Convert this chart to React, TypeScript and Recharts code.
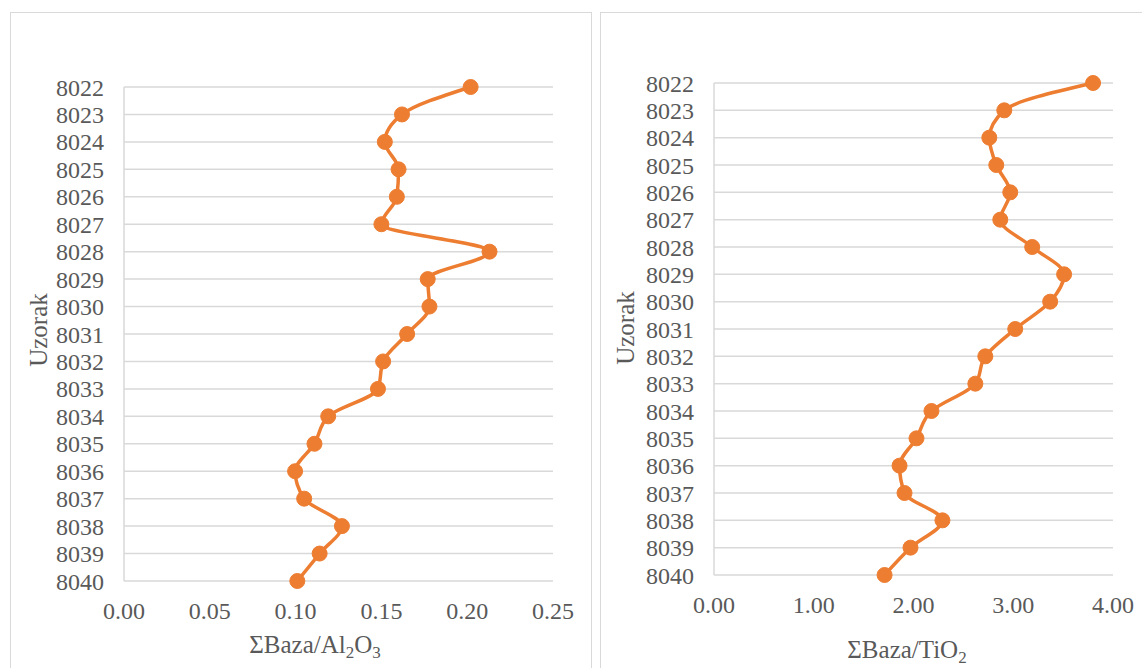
import React from 'react';
import { LineChart, Line, XAxis, YAxis, CartesianGrid } from 'recharts';

// sample ids, top to bottom
const samples = [
  '8022', '8023', '8024', '8025', '8026', '8027', '8028', '8029', '8030', '8031',
  '8032', '8033', '8034', '8035', '8036', '8037', '8038', '8039', '8040',
];

// ΣBaza/Al2O3
const alumina = [
  0.202, 0.162, 0.152, 0.160, 0.159, 0.150, 0.213, 0.177, 0.178, 0.165,
  0.151, 0.148, 0.119, 0.111, 0.0997, 0.105, 0.127, 0.114, 0.101,
];

// ΣBaza/TiO2
const titania = [
  3.80, 2.91, 2.76, 2.83, 2.97, 2.87, 3.19, 3.51, 3.37, 3.02,
  2.72, 2.62, 2.18, 2.03, 1.86, 1.91, 2.29, 1.97, 1.71,
];

const aluminaTicks = [0, 0.05, 0.1, 0.15, 0.2, 0.25];
const titaniaTicks = [0, 1, 2, 3, 4];

const data = samples.map((s, i) => ({ sample: s, al: alumina[i], ti: titania[i] }));

const FONT = '"Liberation Serif", "Times New Roman", serif';
const TEXT = '#595959';
const GRID = '#d9d9d9';
const ORANGE = '#ED7D31';

const XTick = (props: any) => {
  const { x, y, payload } = props;
  return (
    <text x={x} y={y} dy="0.71em" textAnchor="middle" fill={TEXT} style={{ fontFamily: FONT, fontSize: 24 }}>
      {Number(payload.value).toFixed(2)}
    </text>
  );
};

const YTick = (props: any) => {
  const { x, y, payload } = props;
  return (
    <text x={x} y={y} dy="0.355em" textAnchor="end" fill={TEXT} style={{ fontFamily: FONT, fontSize: 24 }}>
      {payload.value}
    </text>
  );
};

const sub = (t: string) => (
  <span style={{ fontSize: '0.68em', position: 'relative', top: '0.32em' }}>{t}</span>
);

const titleStyle: React.CSSProperties = {
  position: 'absolute',
  fontSize: 25,
  lineHeight: '25px',
  color: TEXT,
  whiteSpace: 'nowrap',
  transform: 'translateX(-50%)',
};

const yTitleStyle: React.CSSProperties = {
  position: 'absolute',
  fontSize: 25,
  lineHeight: '25px',
  color: TEXT,
  whiteSpace: 'nowrap',
  transform: 'translate(-50%, -50%) rotate(-90deg)',
};

function Panel({
  dataKey,
  domain,
  ticks,
  yWidth,
  width,
  margin,
}: {
  dataKey: string;
  domain: [number, number];
  ticks: number[];
  yWidth: number;
  width: number;
  margin: { top: number; right: number; bottom: number; left: number };
}) {
  return (
    <LineChart width={width} height={668} data={data} layout="vertical" margin={margin}>
      <CartesianGrid vertical={false} stroke={GRID} strokeWidth={1.5} />
      <XAxis
        type="number"
        domain={domain}
        ticks={ticks}
        axisLine={false}
        tickLine={false}
        tickSize={6}
        tickMargin={15}
        height={60}
        tick={<XTick />}
        interval={0}
      />
      <YAxis
        type="category"
        dataKey="sample"
        width={yWidth}
        axisLine={{ stroke: GRID, strokeWidth: 1.5 }}
        tickLine={false}
        tickSize={6}
        tickMargin={14}
        tick={<YTick />}
        interval={0}
      />
      <Line
        type="monotone"
        dataKey={dataKey}
        stroke={ORANGE}
        strokeWidth={3.5}
        dot={{ r: 7.5, fill: ORANGE, stroke: ORANGE, strokeWidth: 1 }}
        isAnimationActive={false}
      />
    </LineChart>
  );
}

export default function App() {
  return (
    <div
      style={{
        position: 'absolute',
        left: 0,
        top: 0,
        width: 1142,
        height: 668,
        overflow: 'hidden',
        background: '#fff',
        fontFamily: FONT,
      }}
    >
      <div style={{ position: 'absolute', left: 10, top: 12, width: 580, height: 700, border: `1px solid ${GRID}` }} />
      <div style={{ position: 'absolute', left: 600, top: 12, width: 600, height: 700, border: `1px solid ${GRID}` }} />

      <div style={{ position: 'absolute', left: 0, top: 0 }}>
        <Panel
          dataKey="al"
          domain={[0, 0.25]}
          ticks={aluminaTicks}
          yWidth={124}
          width={600}
          margin={{ top: 87, right: 47, bottom: 27, left: 0 }}
        />
      </div>
      <div style={{ position: 'absolute', left: 600, top: 0 }}>
        <Panel
          dataKey="ti"
          domain={[0, 4]}
          ticks={titaniaTicks}
          yWidth={114}
          width={542}
          margin={{ top: 83, right: 29, bottom: 33, left: 0 }}
        />
      </div>

      <div style={{ ...yTitleStyle, left: 38, top: 330 }}>Uzorak</div>
      <div style={{ ...yTitleStyle, left: 625, top: 328 }}>Uzorak</div>

      <div style={{ ...titleStyle, left: 315, top: 632 }}>
        ΣBaza/Al{sub('2')}O{sub('3')}
      </div>
      <div style={{ ...titleStyle, left: 907, top: 637 }}>
        ΣBaza/TiO{sub('2')}
      </div>
    </div>
  );
}
